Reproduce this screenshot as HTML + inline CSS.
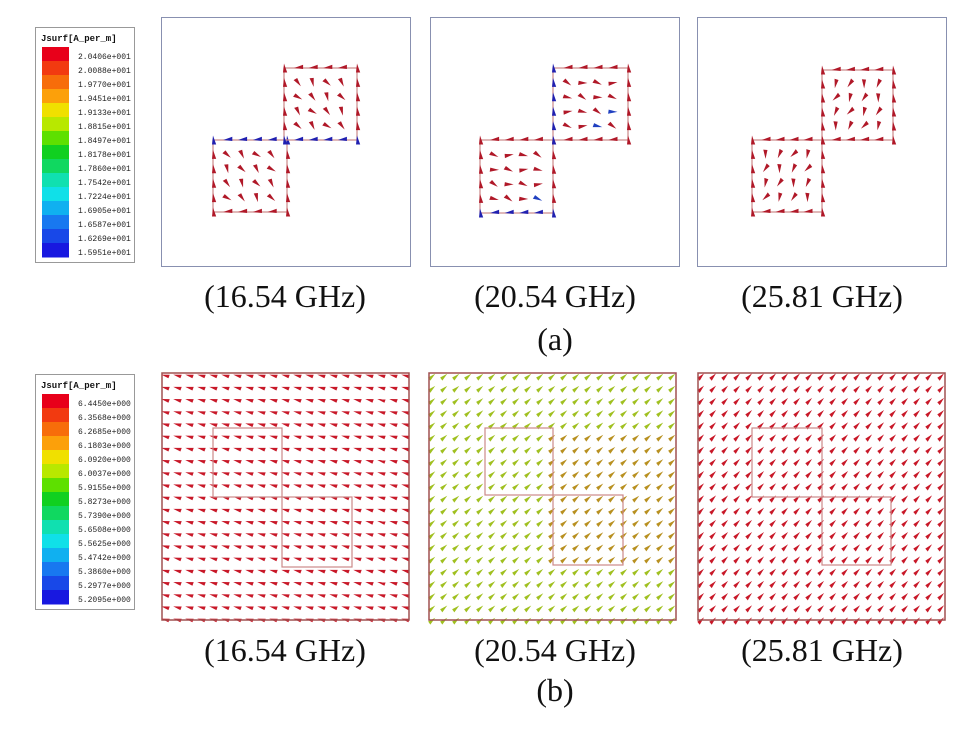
<!DOCTYPE html>
<html><head><meta charset="utf-8"><style>
body{margin:0;background:#fff;width:963px;height:744px;overflow:hidden}
svg{display:block}
.lab{font-family:"Liberation Serif",serif;font-size:32px;fill:#111}
.leg{font-family:"Liberation Mono",monospace;font-size:8px;fill:#222}
.legt{font-family:"Liberation Mono",monospace;font-size:9px;font-weight:bold;fill:#111}
</style></head><body>
<svg id="s" width="963" height="744" xmlns="http://www.w3.org/2000/svg">
<g id="g"></g>
<text class="lab" x="285" y="307" text-anchor="middle">(16.54 GHz)</text>
<text class="lab" x="555" y="307" text-anchor="middle">(20.54 GHz)</text>
<text class="lab" x="822" y="307" text-anchor="middle">(25.81 GHz)</text>
<text class="lab" x="555" y="350" text-anchor="middle">(a)</text>
<text class="lab" x="285" y="661" text-anchor="middle">(16.54 GHz)</text>
<text class="lab" x="555" y="661" text-anchor="middle">(20.54 GHz)</text>
<text class="lab" x="822" y="661" text-anchor="middle">(25.81 GHz)</text>
<text class="lab" x="555" y="701" text-anchor="middle">(b)</text>
</svg>
<script>
var g=document.getElementById('g'),NS='http://www.w3.org/2000/svg';
function el(t,a){var e=document.createElementNS(NS,t);for(var k in a)e.setAttribute(k,a[k]);g.appendChild(e);return e;}
var cols=['#e8001a','#f23a10','#f76d0a','#fca00a','#f0e000','#b8e800','#5ee000','#10d020','#10d860','#10e0b0','#10e0e8','#10b0f0','#1878f0','#1848e8','#1818e0'];
function legend(y0,vals){
 el('rect',{x:35.5,y:y0+0.5,width:99,height:235,fill:'#fff',stroke:'#999'});
 var t=el('text',{x:41,y:y0+14,'class':'legt'});t.textContent='Jsurf[A_per_m]';
 var n=15,h=210/n;
 for(var i=0;i<n;i++){el('rect',{x:42,y:y0+20+i*h,width:27,height:h+0.5,fill:cols[i]});
  var tx=el('text',{x:78,y:y0+32+i*h,'class':'leg'});tx.textContent=vals[i];}
}
legend(27,['2.0406e+001','2.0088e+001','1.9770e+001','1.9451e+001','1.9133e+001','1.8815e+001','1.8497e+001','1.8178e+001','1.7860e+001','1.7542e+001','1.7224e+001','1.6905e+001','1.6587e+001','1.6269e+001','1.5951e+001']);
legend(374,['6.4450e+000','6.3568e+000','6.2685e+000','6.1803e+000','6.0920e+000','6.0037e+000','5.9155e+000','5.8273e+000','5.7390e+000','5.6508e+000','5.5625e+000','5.4742e+000','5.3860e+000','5.2977e+000','5.2095e+000']);
function arrow(x,y,a,c,L,W){L=L||8;W=W||3;var r=a*Math.PI/180,dx=Math.cos(r),dy=Math.sin(r),px=-dy,py=dx;
 var tip=[x+dx*L/2,y+dy*L/2],b1=[x-dx*L/2+px*W,y-dy*L/2+py*W],b2=[x-dx*L/2-px*1,y-dy*L/2-py*1];
 el('polygon',{points:tip+' '+b1+' '+b2,fill:c});}
[[161,17],[430,17],[697,17]].forEach(function(p){
 el('rect',{x:p[0]+0.5,y:p[1]+0.5,width:249,height:249,fill:'none',stroke:'#8890b0'});});
function sq(x,y,w,h){el('rect',{x:x,y:y,width:w,height:h,fill:'none',stroke:'#c88',"stroke-width":1.2});}
function aset(x0,y0,w,h,seed,ang,blue){
 sq(x0,y0,w,h);
 for(var i=0;i<6;i++)for(var j=0;j<6;j++){var x=x0+i*w/5,y=y0+j*h/5;
  var edge=(i==0||i==5||j==0||j==5);var a=edge?(i==0||i==5?-90:180):ang+((i*7+j*3+seed)%5-2)*12;
  var c='#b01828';if(blue&&((j==0&&blue==1)||(j==5&&blue==2)||(i==0&&blue==3)))c='#2020b0';
  if(blue&&(i+j+seed)%11==0&&!edge)c='#2040c0';
  arrow(x,y,a,c,9,3.2);}}
aset(213,140,74,72,1,60,1);aset(284,68,73,72,2,60,2);
aset(480,140,73,73,3,20,2);aset(553,68,75,72,4,20,3);
aset(752,140,70,72,5,120,0);aset(822,70,71,70,6,120,0);
function field(x0,y0,ang,cf){
 for(var i=0;i<21;i++)for(var j=0;j<21;j++){arrow(x0+4+i*12,y0+4+j*12.2,ang,cf(i,j),8,2.8);}
}
field(161,372,200,function(){return '#c81828'});
field(428,372,-35,function(i,j){return (i>9&&j>4&&j<16)?'#b89020':'#a0c020'});
field(697,372,-40,function(){return '#c81828'});
[[161,372],[428,372],[697,372]].forEach(function(p){el('rect',{x:p[0]+1,y:p[1]+1,width:247,height:247,fill:'none',stroke:'#a05050','stroke-width':1.5});});
sq(213,428,69,69);sq(282,497,70,70);sq(485,428,68,67);sq(553,495,70,70);sq(752,428,70,69);sq(822,497,69,68);
</script>
</body></html>
